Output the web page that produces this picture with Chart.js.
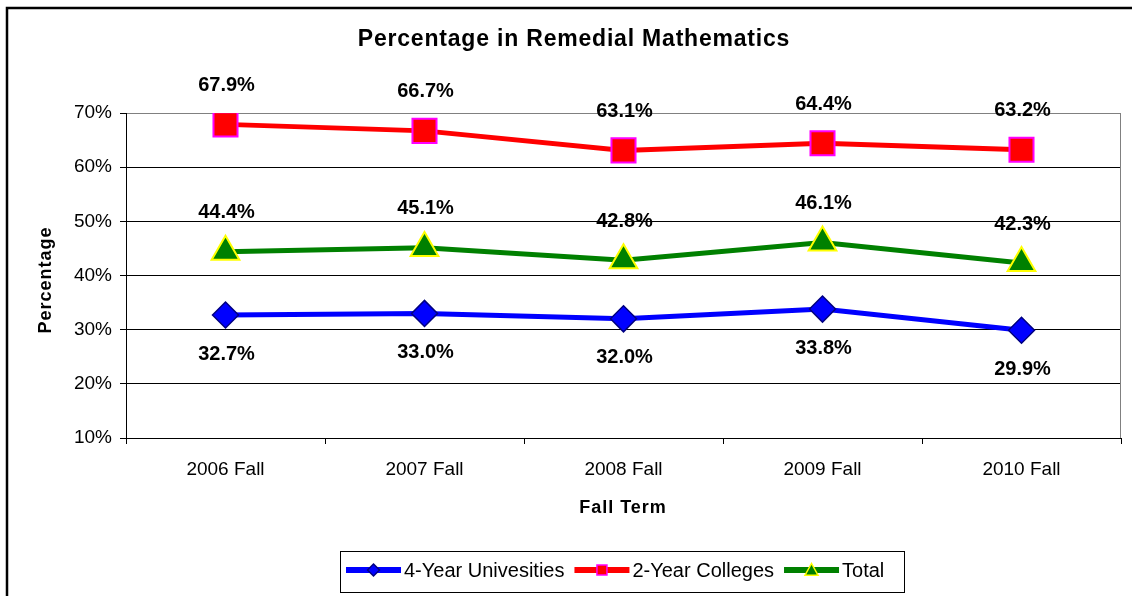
<!DOCTYPE html>
<html>
<head>
<meta charset="utf-8">
<script src="https://cdn.jsdelivr.net/npm/chart.js@4.4.0/dist/chart.umd.min.js"></script>
<style>
    html, body { margin: 0; padding: 0; background: #fff; }
    #wrap { width: 1132px; height: 596px; }
</style>
</head>
<body>
<div id="wrap"><canvas id="chart" width="1132" height="596"></canvas></div>
<script>
var terms = ['2006 Fall', '2007 Fall', '2008 Fall', '2009 Fall', '2010 Fall'];
var universities = [32.7, 33.0, 32.0, 33.8, 29.9];
var colleges = [67.9, 66.7, 63.1, 64.4, 63.2];
var total = [44.4, 45.1, 42.8, 46.1, 42.3];
var yMin = 10, yMax = 70, yStep = 10;

var FONT = '"Liberation Sans", Arial, sans-serif';

function drawMarker(ctx, style, x, y, r, fill, stroke, lw) {
    ctx.save();
    ctx.beginPath();
    if (style === 'rectRot') {
        ctx.moveTo(x, y - r); ctx.lineTo(x + r, y); ctx.lineTo(x, y + r); ctx.lineTo(x - r, y);
    } else if (style === 'rect') {
        ctx.rect(x - r, y - r, 2 * r, 2 * r);
    } else {
        ctx.moveTo(x, y - r); ctx.lineTo(x + r, y + r * 0.8); ctx.lineTo(x - r, y + r * 0.8);
    }
    ctx.closePath();
    ctx.fillStyle = fill;
    ctx.fill();
    ctx.lineWidth = lw;
    ctx.strokeStyle = stroke;
    ctx.stroke();
    ctx.restore();
}

// labels, titles, frame and the boxed legend
var decorations = {
    id: 'decorations',
    afterDatasetsDraw: function (chart) {
        var ctx = chart.ctx;
        ctx.save();
        ctx.font = 'bold 20px ' + FONT;
        ctx.fillStyle = '#000';
        ctx.textAlign = 'center';
        ctx.textBaseline = 'middle';
        chart.data.datasets.forEach(function (ds, i) {
            chart.getDatasetMeta(i).data.forEach(function (pt, j) {
                ctx.fillText(ds.data[j].toFixed(1) + '%', pt.x + 1, pt.y + ds.labelOffset);
            });
        });
        ctx.restore();
    },
    afterDraw: function (chart) {
        var ctx = chart.ctx;
        var area = chart.chartArea;
        ctx.save();

        // outer frame
        ctx.strokeStyle = '#000';
        ctx.lineWidth = 2.5;
        ctx.strokeRect(7, 8, 1140, 600);

        // right edge of the plot
        ctx.strokeStyle = '#808080';
        ctx.lineWidth = 1;
        ctx.beginPath();
        ctx.moveTo(area.right - 0.5, area.top);
        ctx.lineTo(area.right - 0.5, area.bottom);
        ctx.stroke();

        ctx.fillStyle = '#000';
        ctx.textAlign = 'center';
        ctx.textBaseline = 'middle';

        ctx.font = 'bold 23px ' + FONT;
        ctx.letterSpacing = '0.8px';
        ctx.fillText('Percentage in Remedial Mathematics', 574, 40);

        ctx.font = 'bold 18px ' + FONT;
        ctx.letterSpacing = '1px';
        ctx.fillText('Fall Term', 623, 508);
        ctx.save();
        ctx.translate(46, 280);
        ctx.rotate(-Math.PI / 2);
        ctx.fillText('Percentage', 0, 0);
        ctx.restore();
        ctx.letterSpacing = '0px';

        // legend
        ctx.strokeStyle = '#000';
        ctx.lineWidth = 1;
        ctx.strokeRect(340.5, 551.5, 564, 41);
        ctx.font = '20px ' + FONT;
        ctx.textAlign = 'left';
        var x = 346, y = 570;
        chart.data.datasets.forEach(function (ds) {
            ctx.strokeStyle = ds.borderColor;
            ctx.lineWidth = 6;
            ctx.beginPath();
            ctx.moveTo(x, y);
            ctx.lineTo(x + 55, y);
            ctx.stroke();
            drawMarker(ctx, ds.pointStyle, x + 27.5, y, ds.legendMarker, ds.pointBackgroundColor, ds.pointBorderColor, 1.5);
            x += 58;
            ctx.fillStyle = '#000';
            ctx.fillText(ds.label, x, y + 1);
            x += ctx.measureText(ds.label).width + 10;
        });
        ctx.restore();
    }
};

var chart = new Chart(document.getElementById('chart'), {
    type: 'line',
    data: {
        labels: terms,
        datasets: [{
            label: '4-Year Univesities',
            data: universities,
            borderColor: '#0000FF',
            borderWidth: 5,
            pointStyle: 'rectRot',
            pointRadius: 13,
            pointBackgroundColor: '#0000FF',
            pointBorderColor: '#000080',
            pointBorderWidth: 1.5,
            labelOffset: 39,
            legendMarker: 6
        }, {
            label: '2-Year Colleges',
            data: colleges,
            borderColor: '#FF0000',
            borderWidth: 5,
            pointStyle: 'rect',
            pointRadius: 17,
            pointBackgroundColor: '#FF0000',
            pointBorderColor: '#FF00FF',
            pointBorderWidth: 2,
            labelOffset: -39,
            legendMarker: 5
        }, {
            label: 'Total',
            data: total,
            borderColor: '#008000',
            borderWidth: 5,
            pointStyle: 'triangle',
            pointRadius: 16,
            pointBackgroundColor: '#008000',
            pointBorderColor: '#FFFF00',
            pointBorderWidth: 2,
            labelOffset: -39,
            legendMarker: 6.5
        }]
    },
    options: {
        responsive: false,
        animation: false,
        events: [],
        layout: { autoPadding: false, padding: { left: 0, top: 113, right: 11, bottom: 0 } },
        plugins: {
            legend: { display: false },
            title: { display: false },
            tooltip: { enabled: false }
        },
        elements: { line: { tension: 0 } },
        scales: {
            x: {
                offset: true,
                grid: { drawOnChartArea: false, color: '#000', tickLength: 6, offset: true },
                border: { color: '#000', width: 1 },
                ticks: { color: '#000', font: { family: FONT, size: 19 }, padding: 14, maxRotation: 0 },
                afterFit: function (s) { s.height = 158; s.paddingLeft = 0; s.paddingRight = 0; }
            },
            y: {
                min: yMin,
                max: yMax,
                grid: {
                    color: function (c) { return c.tick && c.tick.value === yMax ? '#808080' : '#000'; },
                    tickColor: '#000',
                    tickLength: 6
                },
                border: { color: '#000', width: 1 },
                ticks: {
                    stepSize: yStep,
                    color: '#000',
                    padding: 8,
                    font: { family: FONT, size: 19 },
                    callback: function (v) { return v + '%'; }
                },
                afterFit: function (s) { s.width = 126; s.paddingTop = 0; s.paddingBottom = 0; }
            }
        }
    },
    plugins: [decorations]
});
</script>
</body>
</html>
